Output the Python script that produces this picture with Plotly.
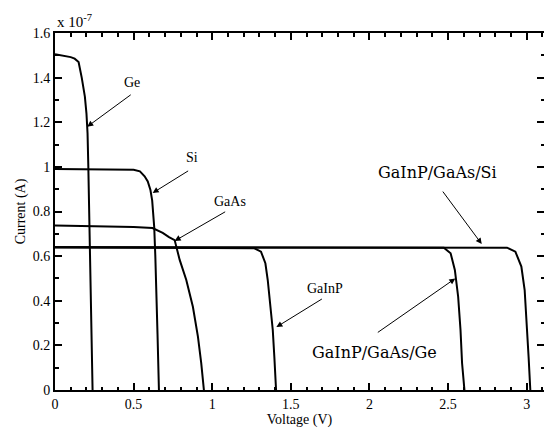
import plotly.graph_objects as go

# ---- data (current in units of 1e-7 A) ----
ge_v = [0, 0.05, 0.10, 0.125, 0.15, 0.17, 0.19, 0.20, 0.207, 0.212, 0.218, 0.226, 0.233, 0.239]
ge_i = [1.505, 1.500, 1.492, 1.485, 1.47, 1.40, 1.315, 1.24, 1.15, 1.00, 0.75, 0.40, 0.15, 0]

si_v = [0, 0.25, 0.45, 0.50, 0.54, 0.57, 0.59, 0.607, 0.618, 0.625, 0.631, 0.638, 0.645, 0.652, 0.661]
si_i = [0.99, 0.99, 0.989, 0.987, 0.980, 0.958, 0.935, 0.896, 0.85, 0.80, 0.73, 0.60, 0.46, 0.25, 0]

gaas_v = [0, 0.3, 0.5, 0.62, 0.685, 0.725, 0.761, 0.793, 0.835, 0.877, 0.909, 0.930, 0.947]
gaas_i = [0.737, 0.735, 0.731, 0.726, 0.704, 0.685, 0.672, 0.583, 0.493, 0.373, 0.239, 0.12, 0]

gainp_v = [0, 0.6, 1.2, 1.268, 1.31, 1.338, 1.353, 1.368, 1.385, 1.395, 1.406]
gainp_i = [0.64, 0.639, 0.637, 0.635, 0.62, 0.568, 0.493, 0.389, 0.269, 0.149, 0]

ge3_v = [0, 1.0, 2.0, 2.473, 2.516, 2.543, 2.564, 2.579, 2.589, 2.604]
ge3_i = [0.64, 0.64, 0.64, 0.638, 0.613, 0.538, 0.418, 0.269, 0.12, 0]

si3_v = [0, 1.0, 2.0, 2.875, 2.928, 2.966, 2.987, 3.001, 3.012, 3.023]
si3_i = [0.64, 0.64, 0.64, 0.638, 0.62, 0.553, 0.448, 0.299, 0.149, 0]

x_ticks = [0, 0.5, 1, 1.5, 2, 2.5, 3]
y_ticks = [0, 0.2, 0.4, 0.6, 0.8, 1, 1.2, 1.4, 1.6]

# labels: (text, label_x, label_y, tip_x, tip_y, ax, ay)
labels = [
    ("Ge", 0.488, 1.376, 0.205, 1.18, 45, -33),
    ("Si", 0.869, 1.040, 0.621, 0.883, 37, -23),
    ("GaAs", 1.116, 0.843, 0.761, 0.668, 52, -30),
    ("GaInP", 1.718, 0.457, 1.408, 0.282, 47, -29),
    ("GaInP/GaAs/Ge", 2.030, 0.170, 2.546, 0.50, -79, 55),
    ("GaInP/GaAs/Si", 2.430, 0.977, 2.714, 0.654, -40, -54),
]

serif = "Liberation Serif"
big_font = "DejaVu Serif"

fig = go.Figure()
line = dict(color="black", width=2)
for name, v, i in [("Ge", ge_v, ge_i), ("Si", si_v, si_i), ("GaAs", gaas_v, gaas_i),
                   ("GaInP", gainp_v, gainp_i), ("GaInP/GaAs/Ge", ge3_v, ge3_i),
                   ("GaInP/GaAs/Si", si3_v, si3_i)]:
    fig.add_trace(go.Scatter(x=v, y=i, mode="lines", line=line, name=name, showlegend=False))

for text, lx, ly, tx, ty, ax, ay in labels:
    big = "/" in text
    fig.add_annotation(x=lx, y=ly, xref="x", yref="y", text=text, showarrow=False,
                       font=dict(family=big_font if big else serif, size=16 if big else 14, color="black"))
    fig.add_annotation(x=tx, y=ty, xref="x", yref="y", text="", showarrow=True,
                       ax=ax, ay=ay, arrowhead=2, arrowsize=1.2, arrowwidth=1, arrowcolor="black")

fig.add_annotation(x=0, y=1, xref="paper", yref="paper", xanchor="left", yanchor="bottom",
                   yshift=1, text="x 10<sup>-7</sup>", showarrow=False,
                   font=dict(family=serif, size=15, color="black"))

fig.update_layout(
    width=546, height=430,
    margin=dict(l=55, r=0, t=33, b=40),
    paper_bgcolor="white", plot_bgcolor="white",
    font=dict(family=serif, size=14, color="black"),
    xaxis=dict(range=[0, 3.11], tickvals=x_ticks, ticks="inside", ticklen=7, tickwidth=1.5,
               tickcolor="black", showline=True, linecolor="black", linewidth=2, mirror="ticks",
               showgrid=False, zeroline=False,
               minor=dict(dtick=0.1, tick0=0, ticks="inside", ticklen=3.5, tickwidth=1.5, tickcolor="black"),
               title=dict(text="Voltage (V)", standoff=2, font=dict(family=serif, size=14)),
               tickfont=dict(family=serif, size=14)),
    yaxis=dict(range=[0, 1.6], tickvals=y_ticks, ticks="inside", ticklen=7, tickwidth=1.5,
               tickcolor="black", showline=True, linecolor="black", linewidth=2, mirror="ticks",
               showgrid=False, zeroline=False,
               minor=dict(dtick=0.1, tick0=0, ticks="inside", ticklen=3.5, tickwidth=1.5, tickcolor="black"),
               title=dict(text="Current (A)", standoff=4, font=dict(family=serif, size=14)),
               tickfont=dict(family=serif, size=14)),
)

js = """
document.body.style.margin='0';
document.body.style.overflow='hidden';
document.querySelectorAll('svg text').forEach(function(t){
  var f = t.style.fontFamily || '';
  var fam = f.indexOf('DejaVu') >= 0 ? '"DejaVu Serif"' : '"Liberation Serif"';
  t.style.setProperty('font-family', fam, 'important');
});
"""

fig.write_html("out.html", config={"displayModeBar": False}, post_script=js)
